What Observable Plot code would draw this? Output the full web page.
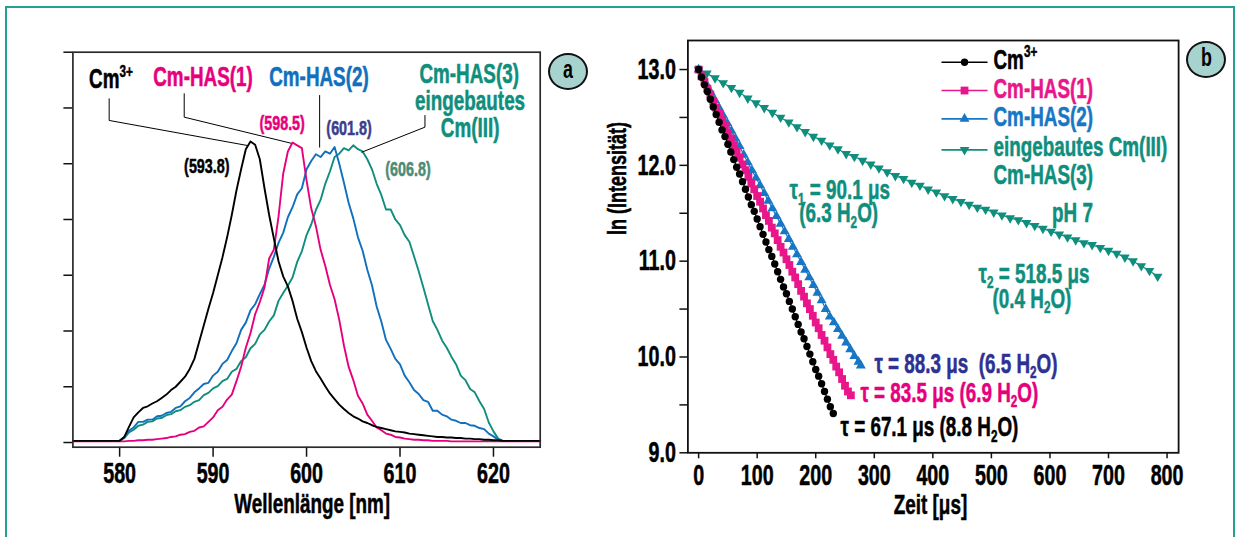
<!DOCTYPE html>
<html lang="de">
<head>
<meta charset="utf-8">
<script src="https://cdn.jsdelivr.net/npm/d3@7"></script>
<script src="https://cdn.jsdelivr.net/npm/@observablehq/plot@0.6"></script>
<style>
  html, body { margin: 0; padding: 0; background: #fff; }
  #fig { position: relative; width: 1242px; height: 537px; overflow: hidden; background: #fff; }
  #border { position: absolute; left: 5px; top: 6px; width: 1230px; height: 580px; border: 2px solid #23a08f; box-sizing: border-box; }
  .panel { position: absolute; top: 0; }
  .panel svg { overflow: visible; display: block; }
  .badge { position: absolute; width: 40px; height: 37px; box-sizing: border-box; border: 2px solid #111;
           border-radius: 50%; background: #a7d3ce; display: flex; align-items: center; justify-content: center;
           font: bold 21px "Liberation Sans", Arial, sans-serif; color: #000; }
  .badge span { display: inline-block; transform: scale(0.85, 1.2); margin-top: -3px; }
</style>
</head>
<body>
<div id="fig">
  <div id="border"></div>
  <div id="pa" class="panel" style="left:0px"></div>
  <div id="pb" class="panel" style="left:600px"></div>
  <div class="badge" style="left:548px;top:53px"><span>a</span></div>
  <div class="badge" style="left:1186px;top:41px"><span>b</span></div>
</div>
<script>
// ---------- Panel a: emission spectra (normalised, arbitrary units) ----------
const wavelength = [
  575, 580, 580.5, 581, 581.5, 582, 582.5, 583, 583.5, 584,
  584.5, 585, 585.5, 586, 586.5, 587, 587.5, 588, 588.5, 589,
  589.5, 590, 590.5, 591, 591.5, 592, 592.5, 593, 593.5, 594,
  594.5, 595, 595.5, 596, 596.5, 597, 597.5, 598, 598.5, 599,
  599.5, 600, 600.5, 601, 601.5, 602, 602.5, 603, 603.5, 604,
  604.5, 605, 605.5, 606, 606.5, 607, 607.5, 608, 608.5, 609,
  609.5, 610, 610.5, 611, 611.5, 612, 612.5, 613, 613.5, 614,
  614.5, 615, 615.5, 616, 616.5, 617, 617.5, 618, 618.5, 619,
  619.5, 620, 620.5, 621, 625
];
const specCm3 = [
  0.03, 0.03, 0.10, 0.28, 0.45, 0.54, 0.62, 0.65, 0.70, 0.74,
  0.80, 0.86, 0.94, 1.00, 1.09, 1.18, 1.32, 1.50, 1.80, 2.10,
  2.40, 2.68, 3.00, 3.32, 3.68, 4.08, 4.52, 4.90, 5.26, 5.40,
  5.34, 5.08, 4.56, 4.08, 3.66, 3.25, 2.98, 2.80, 2.54, 2.22,
  1.98, 1.70, 1.46, 1.28, 1.15, 1.01, 0.88, 0.78, 0.68, 0.60,
  0.53, 0.47, 0.43, 0.38, 0.35, 0.31, 0.28, 0.26, 0.24, 0.22,
  0.20, 0.19, 0.18, 0.16, 0.15, 0.14, 0.13, 0.12, 0.11, 0.10,
  0.10, 0.09, 0.09, 0.08, 0.08, 0.07, 0.07, 0.06, 0.06, 0.05,
  0.05, 0.04, 0.04, 0.03, 0.03
];
const specHas1 = [
  0.02, 0.02, 0.02, 0.03, 0.03, 0.04, 0.04, 0.05, 0.05, 0.06,
  0.07, 0.08, 0.10, 0.11, 0.14, 0.15, 0.19, 0.21, 0.27, 0.29,
  0.37, 0.45, 0.58, 0.64, 0.77, 0.86, 1.10, 1.36, 1.70, 1.96,
  2.30, 2.52, 2.78, 3.30, 3.46, 4.05, 4.82, 5.22, 5.38, 5.33,
  5.28, 4.70, 4.20, 3.88, 3.46, 3.17, 2.83, 2.57, 2.20, 1.74,
  1.36, 1.12, 0.84, 0.70, 0.50, 0.39, 0.27, 0.22, 0.16, 0.14,
  0.10, 0.09, 0.07, 0.06, 0.05, 0.05, 0.04, 0.04, 0.03, 0.03,
  0.03, 0.03, 0.02, 0.02, 0.02, 0.02, 0.02, 0.02, 0.02, 0.02,
  0.02, 0.02, 0.02, 0.02, 0.02
];
const specHas2 = [
  0.03, 0.03, 0.10, 0.21, 0.27, 0.37, 0.37, 0.41, 0.41, 0.47,
  0.48, 0.53, 0.55, 0.62, 0.65, 0.74, 0.80, 0.90, 0.97, 1.05,
  1.07, 1.20, 1.27, 1.41, 1.48, 1.64, 1.78, 2.02, 2.15, 2.37,
  2.48, 2.66, 2.83, 3.12, 3.33, 3.58, 3.76, 4.04, 4.22, 4.45,
  4.56, 4.90, 5.05, 5.17, 5.12, 5.22, 5.18, 5.30, 5.00, 4.66,
  4.30, 4.02, 3.68, 3.44, 3.10, 2.82, 2.44, 2.17, 1.84, 1.68,
  1.50, 1.40, 1.20, 1.08, 0.94, 0.87, 0.76, 0.73, 0.57, 0.57,
  0.50, 0.47, 0.41, 0.39, 0.35, 0.35, 0.31, 0.30, 0.26, 0.24,
  0.16, 0.11, 0.05, 0.03, 0.03
];
const specHas3 = [
  0.03, 0.03, 0.08, 0.18, 0.23, 0.30, 0.32, 0.37, 0.38, 0.43,
  0.44, 0.49, 0.51, 0.56, 0.58, 0.64, 0.67, 0.73, 0.76, 0.85,
  0.89, 0.97, 1.01, 1.10, 1.14, 1.27, 1.32, 1.46, 1.53, 1.69,
  1.77, 1.94, 2.02, 2.17, 2.28, 2.54, 2.68, 2.81, 2.96, 3.24,
  3.43, 3.72, 3.91, 4.17, 4.35, 4.64, 4.86, 5.12, 5.18, 5.28,
  5.24, 5.33, 5.26, 5.22, 5.08, 4.90, 4.64, 4.44, 4.18, 4.18,
  4.00, 3.90, 3.72, 3.60, 3.34, 3.07, 2.78, 2.48, 2.18, 2.02,
  1.83, 1.70, 1.54, 1.40, 1.20, 1.12, 0.96, 0.90, 0.74, 0.60,
  0.36, 0.20, 0.07, 0.03, 0.03
];
const wavelengthTicks = [580, 590, 600, 610, 620];
const intensityTicks = [0, 1, 2, 3, 4, 5, 6, 7];

// ---------- Panel b: ln(intensity) decays ----------
const timeCm3 = [0,5,10,15,20,25,30,35,40,45,50,55,60,65,70,75,80,85,90,95,100,105,110,115,120,125,130,135,140,145,150,155,160,165,170,175,180,185,190,195,200,205,210,215,220,225,230];
const lnCm3 = [13.00,12.92,12.84,12.77,12.69,12.61,12.53,12.45,12.37,12.30,
  12.22,12.14,12.06,11.98,11.91,11.83,11.75,11.67,11.59,11.52,
  11.44,11.36,11.28,11.20,11.12,11.05,10.97,10.89,10.81,10.73,
  10.66,10.58,10.50,10.42,10.34,10.26,10.19,10.11,10.03,9.95,
  9.87,9.80,9.72,9.64,9.56,9.48,9.41];
const timeHas1 = [0,5,10,15,20,25,30,35,40,45,50,55,60,65,70,75,80,85,90,95,100,105,110,115,120,125,130,135,140,145,150,155,160,165,170,175,180,185,190,195,200,205,210,215,220,225,230,235,240,245,250,255,260];
const lnHas1 = [13.00,12.93,12.87,12.80,12.74,12.67,12.60,12.54,12.47,12.41,
  12.34,12.28,12.21,12.14,12.08,12.01,11.95,11.88,11.81,11.75,
  11.68,11.62,11.55,11.48,11.42,11.35,11.29,11.22,11.15,11.09,
  11.02,10.96,10.89,10.83,10.76,10.69,10.63,10.56,10.50,10.43,
  10.36,10.30,10.23,10.17,10.10,10.03,9.97,9.90,9.84,9.77,
  9.70,9.64,9.60];
const timeHas2 = [0,7,14,21,28,35,42,49,56,63,70,77,84,91,98,105,112,119,126,133,140,147,154,161,168,175,182,189,196,203,210,217,224,231,238,245,252,259,266,273,277];
const lnHas2 = [13.00,12.92,12.84,12.76,12.68,12.60,12.52,12.44,12.36,12.28,
  12.20,12.11,12.03,11.95,11.87,11.79,11.71,11.63,11.55,11.47,
  11.39,11.31,11.23,11.15,11.07,10.99,10.91,10.83,10.75,10.67,
  10.59,10.50,10.42,10.36,10.29,10.22,10.15,10.08,10.01,9.95,
  9.91];
const timeHas3 = [0,14,28,42,56,70,84,98,112,126,140,154,168,182,196,210,224,238,252,266,280,294,308,322,336,350,364,378,392,406,420,434,448,462,476,490,504,518,532,546,560,574,588,602,616,630,644,658,672,686,700,714,728,742,756,770,784];
const lnHas3 = [13.00,12.96,12.91,12.86,12.81,12.76,12.70,12.65,12.60,12.55,
  12.50,12.45,12.40,12.35,12.30,12.26,12.21,12.17,12.12,12.09,
  12.05,12.01,11.97,11.93,11.89,11.86,11.82,11.79,11.75,11.72,
  11.68,11.65,11.62,11.59,11.56,11.54,11.51,11.48,11.45,11.43,
  11.40,11.37,11.34,11.31,11.28,11.25,11.22,11.19,11.17,11.14,
  11.11,11.08,11.04,11.00,10.95,10.90,10.84];
const timeTicks = [0, 100, 200, 300, 400, 500, 600, 700, 800];
const lnTicks = [9, 9.5, 10, 10.5, 11, 11.5, 12, 12.5, 13];

// ---------- styling ----------
const FONT = `"Liberation Sans", Arial, sans-serif`;
const SX = 0.82, SY = 1.2;   // condensed, tall glyphs
const C = {
  black: "#000000", pink: "#e6007e", blue: "#1070bd", teal: "#0f8e7d",
  navy: "#3b3d8d", sage: "#4d8b76", navyB: "#2e3192"
};
const pair = (xs, ys) => xs.map((x, i) => [x, ys[i]]);

// ---------- panel a annotations (data coordinates) ----------
const labelsA = [
  {text: "Cm^{3+}", x: 579.07, y: 6.51, color: C.black, size: 23},
  {text: "Cm-HAS(1)", x: 588.92, y: 6.55, color: C.pink, size: 23},
  {text: "Cm-HAS(2)", x: 601.33, y: 6.55, color: C.blue, size: 23},
  {text: "Cm-HAS(3)", x: 617.4, y: 6.60, color: C.teal, size: 23},
  {text: "eingebautes", x: 617.5, y: 6.13, color: C.teal, size: 23},
  {text: "Cm(III)", x: 617.5, y: 5.64, color: C.teal, size: 23},
  {text: "(598.5)", x: 597.39, y: 5.73, color: C.pink, size: 17.5},
  {text: "(601.8)", x: 604.55, y: 5.63, color: C.navy, size: 17.5},
  {text: "(593.8)", x: 589.33, y: 4.95, color: C.black, size: 17.5},
  {text: "(606.8)", x: 610.85, y: 4.90, color: C.sage, size: 17.5}
];
const leadersA = [
  [[578.88, 6.165], [578.88, 5.776], [593.66, 5.327]],
  [[586.91, 6.255], [586.91, 5.835], [598.31, 5.369]],
  [[601.40, 6.224], [601.40, 5.297]],
  [[612.67, 5.865], [612.67, 5.656], [605.92, 5.207]]
];

// ---------- panel b legend & annotations ----------
const triangleDown = {
  draw(context, size) {
    const s3 = Math.sqrt(3);
    const y = Math.sqrt(size / (s3 * 3));
    context.moveTo(0, 2 * y);
    context.lineTo(-s3 * y, -y);
    context.lineTo(s3 * y, -y);
    context.closePath();
  }
};
const seriesB = [
  {name: "Cm^{3+}", t: timeCm3, v: lnCm3, color: C.black, symbol: "circle", r: 3.7},
  {name: "Cm-HAS(1)", t: timeHas1, v: lnHas1, color: "#e8168a", symbol: "square", r: 4.4},
  {name: "Cm-HAS(2)", t: timeHas2, v: lnHas2, color: "#1877c4", symbol: "triangle", r: 3.7},
  {name: "eingebautes Cm(III)", t: timeHas3, v: lnHas3, color: C.teal, symbol: triangleDown, r: 3.6}
];
const legendLineY = [13.076, 12.781, 12.485, 12.162];
const legendTextY = [13.10, 12.80, 12.50, 12.19];
const legendX = {x1: 414.8, xm: 454.1, x2: 493.4, text: 503.6};
const annotationsB = [
  {text: "Cm-HAS(3)", x: 503.6, y: 11.90, color: C.teal, anchor: "start"},
  {text: "τ_{1} = 90.1 μs", x: 241, y: 11.74, color: C.teal, anchor: "middle"},
  {text: "(6.3 H_{2}O)", x: 239.2, y: 11.50, color: C.teal, anchor: "middle"},
  {text: "pH 7", x: 638.5, y: 11.50, color: C.teal, anchor: "middle"},
  {text: "τ_{2} = 518.5 μs", x: 572.7, y: 10.867, color: C.teal, anchor: "middle"},
  {text: "(0.4 H_{2}O)", x: 569.3, y: 10.607, color: C.teal, anchor: "middle"},
  {text: "τ = 88.3 μs\u00a0 (6.5 H_{2}O)", x: 300.2, y: 9.928, color: C.navyB, anchor: "start"},
  {text: "τ = 83.5 μs (6.9 H_{2}O)", x: 276.3, y: 9.623, color: C.pink, anchor: "start"},
  {text: "τ = 67.1 μs (8.8 H_{2}O)", x: 242.3, y: 9.266, color: C.black, anchor: "start"}
];

// ---------- helpers ----------
function finishText(svg) {
  svg.querySelectorAll("text").forEach((t) => {
    const s = t.textContent;
    if (t.children.length === 0 && /[_^]\{/.test(s)) {
      const fs = parseFloat(getComputedStyle(t).fontSize) || 16;
      t.textContent = "";
      const add = (str, dy, size) => {
        const ts = document.createElementNS("http://www.w3.org/2000/svg", "tspan");
        ts.textContent = str;
        if (dy) ts.setAttribute("dy", dy.toFixed(2));
        if (size) ts.setAttribute("font-size", size.toFixed(1));
        t.appendChild(ts);
      };
      const re = /([_^])\{([^}]*)\}/g;
      let last = 0, m, shift = 0;
      while ((m = re.exec(s))) {
        if (m.index > last) { add(s.slice(last, m.index), -shift); shift = 0; }
        const d = m[1] === "_" ? 0.2 * fs : -0.42 * fs;
        add(m[2], d - shift, 0.62 * fs);
        shift = d;
        last = re.lastIndex;
      }
      if (last < s.length) add(s.slice(last), -shift);
    }
    // heavier strokes like the condensed bold of the original
    const fill = getComputedStyle(t).fill;
    t.style.stroke = fill;
    t.style.strokeWidth = "0.45px";
    t.style.strokeLinejoin = "round";
    const tr = t.getAttribute("transform");
    if (tr != null) t.setAttribute("transform", `${tr} scale(${SX},${SY})`);
  });
}
const textMark = (a) => Plot.text([a], {
  x: "x", y: "y", text: "text", fill: a.color, fontSize: a.size ?? 23,
  textAnchor: a.anchor ?? "middle", lineAnchor: "middle", fontWeight: "bold"
});

// ---------- Panel a ----------
const spectra = [
  {v: specHas3, color: C.teal},
  {v: specHas2, color: C.blue},
  {v: specHas1, color: C.pink},
  {v: specCm3, color: C.black}
];
const plotA = Plot.plot({
  width: 600, height: 537,
  marginLeft: 72.4, marginRight: 60.3, marginTop: 51.7, marginBottom: 90.3,
  x: {domain: [575, 625]},
  y: {domain: [-0.084, 7]},
  style: {fontFamily: FONT, fontWeight: "bold", color: "#111", background: "transparent", overflow: "visible"},
  marks: [
    Plot.axisX({ticks: wavelengthTicks, tickSize: 10, tickPadding: 5.5, fontSize: 24, strokeWidth: 1.5, label: null, fill: "#000"}),
    Plot.axisY({ticks: intensityTicks, tickSize: 9, tickFormat: () => "", strokeWidth: 1.5, label: null}),
    ...spectra.map((s) => Plot.line(pair(wavelength, s.v), {stroke: s.color, strokeWidth: 1.9})),
    ...leadersA.map((l) => Plot.line(l, {stroke: "#000", strokeWidth: 1})),
    ...labelsA.map(textMark),
    Plot.text(["Wellenlänge [nm]"], {x: 600.6, frameAnchor: "bottom", dy: 56.6, lineAnchor: "middle", fontSize: 23, fill: "#000"}),
    Plot.frame({stroke: "#2b2b2b", strokeWidth: 1.7})
  ]
});
document.getElementById("pa").appendChild(plotA);
finishText(plotA);

// ---------- Panel b ----------
const plotB = Plot.plot({
  width: 642, height: 537,
  marginLeft: 87.4, marginRight: 63.9, marginTop: 40, marginBottom: 84.7,
  x: {domain: [-18.3, 819.7]},
  y: {domain: [9, 13.303]},
  style: {fontFamily: FONT, fontWeight: "bold", color: "#111", background: "transparent", overflow: "visible"},
  marks: [
    Plot.axisX({ticks: timeTicks, tickSize: 6, tickPadding: 6, fontSize: 24, strokeWidth: 1.5, label: null, fill: "#000"}),
    Plot.axisY({ticks: lnTicks, tickSize: 8, tickPadding: 4, fontSize: 24, strokeWidth: 1.5, label: null, fill: "#000",
      tickFormat: (d) => Number.isInteger(d) ? d.toFixed(1) : ""}),
    ...seriesB.slice().reverse().flatMap((s) => [
      Plot.line(pair(s.t, s.v), {stroke: s.color, strokeWidth: 1.2}),
      Plot.dot(pair(s.t, s.v), {fill: s.color, symbol: s.symbol, r: s.r})
    ]),
    ...seriesB.flatMap((s, i) => [
      Plot.link([0], {x1: legendX.x1, x2: legendX.x2, y1: legendLineY[i], y2: legendLineY[i], stroke: s.color, strokeWidth: 1.6}),
      Plot.dot([0], {x: legendX.xm, y: legendLineY[i], fill: s.color, symbol: s.symbol, r: s.r}),
      Plot.text([s.name], {x: legendX.text, y: legendTextY[i], fill: s.color, fontSize: 23, textAnchor: "start", lineAnchor: "middle"})
    ]),
    ...annotationsB.map(textMark),
    Plot.text(["ln (Intensität)"], {frameAnchor: "left", y: 11.272, dx: -69.9, rotate: -90, lineAnchor: "middle", fontSize: 22, fill: "#000"}),
    Plot.text(["Zeit [μs]"], {x: 396, frameAnchor: "bottom", dy: 52.7, lineAnchor: "middle", fontSize: 23, fill: "#000"}),
    Plot.frame({stroke: "#111", strokeWidth: 1.8})
  ]
});
document.getElementById("pb").appendChild(plotB);
finishText(plotB);
</script>
</body>
</html>
